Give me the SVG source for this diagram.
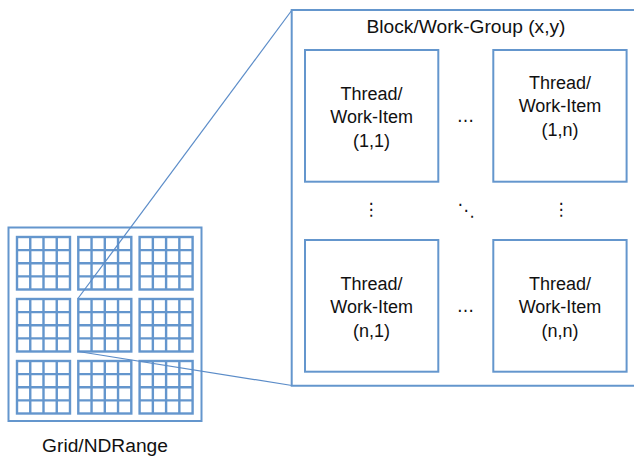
<svg xmlns="http://www.w3.org/2000/svg" width="634" height="458" viewBox="0 0 634 458">
<defs>
<style>
.frame{fill:none;stroke:#6496CD;stroke-width:2}
.cell{fill:none;stroke:#6496CD;stroke-width:2.4}
.box{fill:#fff;stroke:#6496CD;stroke-width:2}
.conn{fill:none;stroke:#5B8CC8;stroke-width:1.2}
.lbl{font-family:"Liberation Sans",Arial,sans-serif;font-size:19.2px;fill:#111;text-anchor:middle}
.t{font-family:"Liberation Sans",Arial,sans-serif;font-size:18px;fill:#111;text-anchor:middle}
.dots{font-family:"DejaVu Sans",sans-serif;font-size:17px;fill:#111;text-anchor:middle}
</style>
<g id="blk">
<rect class="cell" x="0" y="0" width="53" height="52.5"/>
<path class="cell" d="M13.25 0V52.5M26.5 0V52.5M39.75 0V52.5M0 13.1H53M0 26.25H53M0 39.4H53"/>
</g>
</defs>
<rect width="634" height="458" fill="#fff"/>
<g id="grid">
<rect class="frame" x="8.5" y="227.5" width="193" height="193.5"/>
<use href="#blk" x="17" y="237"/>
<use href="#blk" x="78.3" y="237"/>
<use href="#blk" x="139.6" y="237"/>
<use href="#blk" x="17" y="299"/>
<use href="#blk" x="78.3" y="299"/>
<use href="#blk" x="139.6" y="299"/>
<use href="#blk" x="17" y="361"/>
<use href="#blk" x="78.3" y="361"/>
<use href="#blk" x="139.6" y="361"/>
<text class="lbl" x="105" y="451.5">Grid/NDRange</text>
</g>
<g id="connectors">
<line class="conn" x1="78.3" y1="298" x2="292" y2="10"/>
<line class="conn" x1="78.3" y1="351.5" x2="292" y2="385.5"/>
</g>
<g id="workgroup">
<path class="frame" d="M640 10H291.7V385.7H640"/>
<text class="lbl" x="466" y="33">Block/Work-Group (x,y)</text>
</g>
<g id="item11">
<rect class="box" x="305" y="50" width="133.3" height="131.7"/>
<text class="t" x="371.6" y="100">Thread/</text>
<text class="t" x="371.6" y="123.3">Work-Item</text>
<text class="t" x="371.6" y="146.6">(1,1)</text>
</g>
<g id="item1n">
<rect class="box" x="493.3" y="50" width="133.3" height="131.7"/>
<text class="t" x="560" y="89">Thread/</text>
<text class="t" x="560" y="112.3">Work-Item</text>
<text class="t" x="560" y="135.6">(1,n)</text>
</g>
<g id="itemn1">
<rect class="box" x="305" y="240" width="133.3" height="131.7"/>
<text class="t" x="371.6" y="290">Thread/</text>
<text class="t" x="371.6" y="313.3">Work-Item</text>
<text class="t" x="371.6" y="336.6">(n,1)</text>
</g>
<g id="itemnn">
<rect class="box" x="493.3" y="240" width="133.3" height="131.7"/>
<text class="t" x="560" y="290">Thread/</text>
<text class="t" x="560" y="313.3">Work-Item</text>
<text class="t" x="560" y="336.6">(n,n)</text>
</g>
<g id="ellipses">
<text class="dots" x="465.5" y="122">…</text>
<text class="dots" x="465.5" y="312">…</text>
<text class="dots" x="371" y="215">⋮</text>
<text class="dots" x="561" y="215">⋮</text>
<text class="dots" x="466" y="216">⋱</text>
</g>
</svg>
